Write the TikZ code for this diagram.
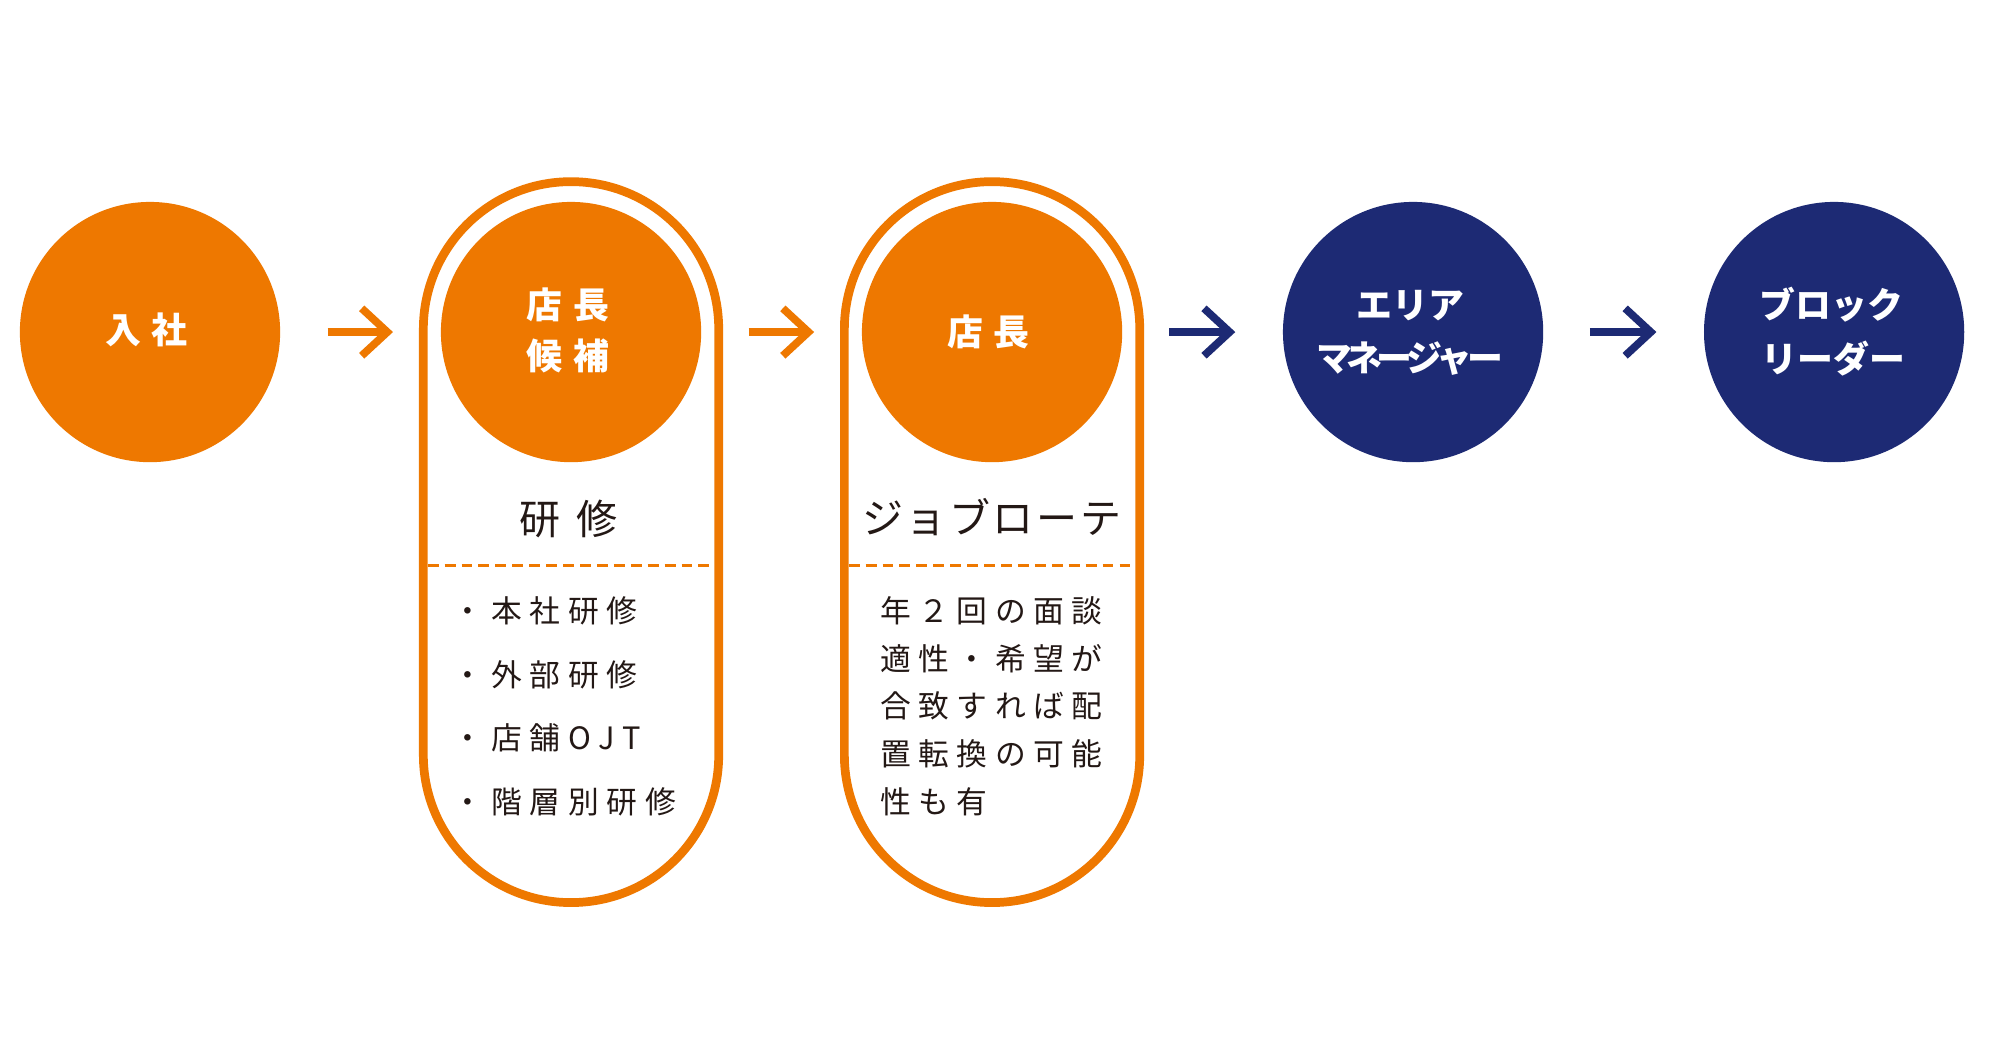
\documentclass[tikz,border=0pt]{standalone}
\usepackage{fontspec}
\setmainfont{Noto Sans CJK JP}
\definecolor{jorange}{HTML}{EE7800}
\definecolor{jnavy}{HTML}{1D2A74}
\definecolor{jink}{HTML}{231815}
\makeatletter
\newcommand\trk[2]{\begingroup\def\trk@sep{}\@tfor\trk@c:=#2\do{\trk@sep\trk@c\def\trk@sep{\kern#1}}\endgroup}
\makeatother
\newcommand\flowarrow[3]{%
  \draw[arrowline, draw=#1] (#2) -- (#3);
  \draw[arrowline, draw=#1, line join=miter] ([shift={(-20,-18.5)}]#3) -- (#3) -- ([shift={(-20,18.5)}]#3);
}
\tikzset{
  stage/.style={circle, inner sep=0pt, outer sep=0pt, minimum size=203pt, draw=none},
  capsule/.style={draw=jorange, line width=6.8pt, rounded corners=115pt, minimum width=230.4pt, minimum height=562.3pt, inner sep=0pt, outer sep=0pt},
  circtext/.style={text=white, font=\bfseries\fontsize{28}{34}\selectfont, inner sep=0pt},
  headtext/.style={text=jink, font=\fontsize{32}{38}\selectfont, inner sep=0pt},
  itemtext/.style={text=jink, font=\fontsize{24}{30}\selectfont, inner sep=0pt, anchor=west},
  divider/.style={draw=jorange, line width=2.6pt, dash pattern=on 8.5pt off 4.7pt},
  arrowline/.style={line width=6pt},
}
\begin{document}
\begin{tikzpicture}[x=1pt, y=-1pt]
\useasboundingbox[fill=white] (0,0) rectangle (1560,824.5);

% capsules
\node[capsule] (k1) at (445.4,422.85) {};
\node[capsule] (k2) at (773.8,422.85) {};

% circles
\node[stage, fill=jorange] (c1) at (117,259) {};
\node[stage, fill=jorange] (c2) at (445.4,259) {};
\node[stage, fill=jorange] (c3) at (773.8,259) {};
\node[stage, fill=jnavy] (c4) at (1102.2,259) {};
\node[stage, fill=jnavy] (c5) at (1430.6,259) {};

% circle texts
\node[circtext] (t1) at (114.3,257.3) {\trk{8.5pt}{入社}};
\node[circtext] (t2a) at (443,237.6) {\trk{8.5pt}{店長}};
\node[circtext] (t2b) at (443,277.5) {\trk{8.5pt}{候補}};
\node[circtext] (t3) at (771,258.6) {\trk{8.5pt}{店長}};
\node[circtext] (t4a) at (1100,238) {エリア};
\node[circtext] (t4b) at (1099.5,280) {\trk{-4.5pt}{マネージャー}};
\node[circtext] (t5a) at (1428.3,238) {ブロック};
\node[circtext] (t5b) at (1430,280) {リーダー};

% arrows
\coordinate (a1s) at ([xshift=37pt]c1.east);
\coordinate (a1e) at ([xshift=-41.8pt]c2.west);
\coordinate (a2s) at ([xshift=37.1pt]c2.east);
\coordinate (a2e) at ([xshift=-41.7pt]c3.west);
\coordinate (a3s) at ([xshift=36.7pt]c3.east);
\coordinate (a3e) at ([xshift=-41.6pt]c4.west);
\coordinate (a4s) at ([xshift=36.3pt]c4.east);
\coordinate (a4e) at ([xshift=-41.5pt]c5.west);
\flowarrow{jorange}{a1s}{a1e}
\flowarrow{jorange}{a2s}{a2e}
\flowarrow{jnavy}{a3s}{a3e}
\flowarrow{jnavy}{a4s}{a4e}

% headings
\node[headtext] (h1) at (443.5,404.5) {\trk{13pt}{研修}};
\node[headtext] (h2) at (773.5,403) {\trk{2pt}{ジョブローテ}};

% dividers
\draw[divider] (333.6,441) -- (557.2,441);
\draw[divider] (662,441) -- (885.6,441);

% list items
\node[itemtext] (l1) at (353,476.5) {\trk{6pt}{・本社研修}};
\node[itemtext] (l2) at (353,526.1) {\trk{6pt}{・外部研修}};
\node[itemtext] (l3) at (353,575.7) {\trk{6pt}{・店舗OJT}};
\node[itemtext] (l4) at (353,625.3) {\trk{6pt}{・階層別研修}};

\node[itemtext] (r1) at (686.5,476.3) {\trk{5.8pt}{年２回の面談}};
\node[itemtext] (r2) at (686.5,513.55) {\trk{5.8pt}{適性・希望が}};
\node[itemtext] (r3) at (686.5,550.8) {\trk{5.8pt}{合致すれば配}};
\node[itemtext] (r4) at (686.5,588.05) {\trk{5.8pt}{置転換の可能}};
\node[itemtext] (r5) at (686.5,625.3) {\trk{5.8pt}{性も有}};
\end{tikzpicture}
\end{document}
